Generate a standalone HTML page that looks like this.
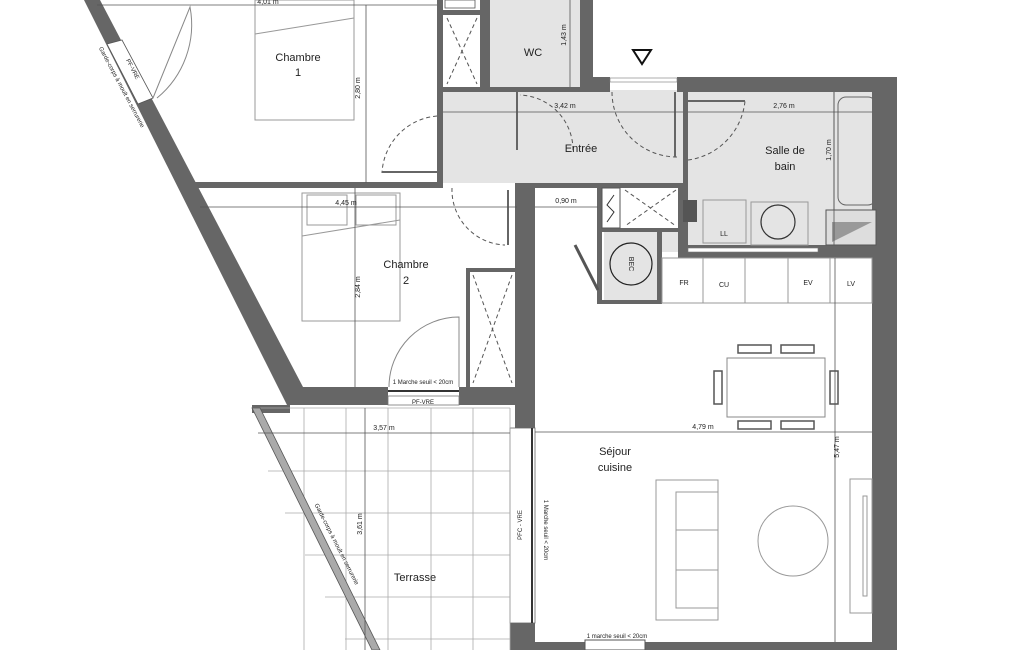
<!DOCTYPE html>
<html><head><meta charset="utf-8"><style>
html,body{margin:0;padding:0;background:#fff}
svg{display:block}
text{font-family:"Liberation Sans",sans-serif;fill:#222}
.w{fill:#666}
.t{fill:#e4e4e4}
.l{stroke:#888;stroke-width:1;fill:none}
.d{stroke:#555;stroke-width:0.8;fill:none}
.ds{stroke:#555;stroke-width:1;fill:none;stroke-dasharray:4 3}
.s{font-size:7px}
.r{font-size:11px}
</style></head><body>
<svg width="1025" height="650" viewBox="0 0 1025 650" xmlns="http://www.w3.org/2000/svg">
<rect class="t" x="443" y="90" width="240" height="93"/>
<rect class="t" x="490" y="0" width="90" height="87"/>
<rect class="t" x="688" y="92" width="184" height="153"/>
<rect class="t" x="604" y="232" width="53" height="68"/>
<rect class="t" x="662" y="232" width="20" height="20"/>

<polygon class="w" points="84,0 100,0 303,387 303,405 287,405"/>
<polygon points="107,44 122,40 153,98 138,104" fill="#fff" stroke="#555" stroke-width="0.8"/>
<rect class="w" x="195" y="182" width="248" height="6"/>
<rect class="w" x="290" y="387" width="98" height="18"/>
<rect class="w" x="459" y="387" width="76" height="18"/>
<rect x="388" y="396" width="71" height="9" fill="#fff" stroke="#777" stroke-width="0.8"/>
<line x1="388" y1="391" x2="459" y2="391" stroke="#333" stroke-width="2"/>
<rect class="w" x="437" y="0" width="6" height="183"/>
<rect class="w" x="443" y="10" width="47" height="5"/>
<rect class="w" x="480" y="0" width="10" height="92"/>
<rect class="w" x="443" y="87" width="150" height="5"/>
<path class="ds" d="M447 18 L477 84 M477 18 L447 84"/>
<rect x="445" y="0" width="30" height="8" fill="#fff" stroke="#555" stroke-width="0.8"/>
<rect class="w" x="580" y="0" width="13" height="92"/>
<rect class="w" x="593" y="77" width="17" height="15"/>
<rect class="w" x="677" y="77" width="220" height="15"/>
<rect x="610" y="78" width="67" height="4" fill="#fff" stroke="#777" stroke-width="0.6"/>
<polygon points="633,50 651,50 642,64" fill="none" stroke="#111" stroke-width="2"/>
<rect class="w" x="683" y="92" width="5" height="160"/>
<rect class="w" x="872" y="92" width="25" height="558"/>
<rect class="w" x="882" y="77" width="15" height="180"/>
<rect class="w" x="683" y="245" width="200" height="13"/>
<rect x="688" y="248" width="130" height="4" fill="#fff" stroke="#777" stroke-width="0.6"/>
<rect x="838" y="97" width="38" height="108" rx="8" fill="none" stroke="#666" stroke-width="1"/>
<line x1="834" y1="92" x2="834" y2="210" stroke="#666"/>
<rect x="826" y="210" width="50" height="35" fill="#ddd" stroke="#555"/>
<polygon points="832,242 872,222 832,222" fill="#999"/>
<rect x="703" y="200" width="43" height="43" fill="none" stroke="#999"/>
<text x="724" y="236" class="s" text-anchor="middle">LL</text>
<rect x="751" y="202" width="57" height="43" fill="none" stroke="#999"/>
<circle cx="778" cy="222" r="17" fill="none" stroke="#333" stroke-width="1.2"/>
<rect x="683" y="200" width="14" height="22" fill="#555"/>
<rect class="w" x="515" y="183" width="20" height="245"/>
<rect class="w" x="510" y="623" width="25" height="27"/>
<rect x="510" y="428" width="25" height="195" fill="#fff" stroke="#666" stroke-width="0.8"/>
<line x1="532" y1="428" x2="532" y2="623" stroke="#333" stroke-width="2"/>
<rect class="w" x="535" y="642" width="362" height="8"/>
<rect x="585" y="640" width="60" height="10" fill="#fff" stroke="#555"/>
<rect class="w" x="535" y="183" width="153" height="5"/>
<rect class="w" x="597" y="183" width="5" height="117"/>
<rect class="w" x="597" y="228" width="86" height="4"/>
<rect class="w" x="657" y="232" width="5" height="70"/>
<rect class="w" x="597" y="300" width="65" height="4"/>
<rect class="w" x="678" y="183" width="5" height="75"/>
<rect x="602" y="188" width="18" height="40" fill="#fff" stroke="#555"/>
<path d="M614 195 L607 205 L614 212 L607 222" stroke="#333" fill="none"/>
<path class="ds" d="M625 190 L676 226 M676 190 L625 226"/>
<circle cx="631" cy="264" r="21" fill="none" stroke="#222" stroke-width="1.2"/>
<text x="631" y="266" class="s" text-anchor="middle" transform="rotate(90 631 264)">BEC</text>
<line x1="575" y1="245" x2="598" y2="290" stroke="#555" stroke-width="3"/>
<rect class="w" x="466" y="268" width="49" height="4"/>
<rect class="w" x="466" y="268" width="4" height="119"/>
<path class="ds" d="M473 275 L512 383 M512 275 L473 383"/>
<rect x="662" y="258" width="210" height="45" fill="none" stroke="#999"/>
<line x1="703" y1="258" x2="703" y2="303" stroke="#999"/>
<line x1="745" y1="258" x2="745" y2="303" stroke="#999"/>
<line x1="788" y1="258" x2="788" y2="303" stroke="#999"/>
<line x1="830" y1="258" x2="830" y2="303" stroke="#999"/>
<text x="684" y="285" class="s" text-anchor="middle">FR</text>
<text x="724" y="287" class="s" text-anchor="middle">CU</text>
<text x="808" y="285" class="s" text-anchor="middle">EV</text>
<text x="851" y="286" class="s" text-anchor="middle">LV</text>
<rect x="727" y="358" width="98" height="59" fill="#fff" stroke="#888"/>
<g fill="none" stroke="#555" stroke-width="1.5">
<rect x="738" y="345" width="33" height="8"/><rect x="781" y="345" width="33" height="8"/>
<rect x="738" y="421" width="33" height="8"/><rect x="781" y="421" width="33" height="8"/>
<rect x="714" y="371" width="8" height="33"/><rect x="830" y="371" width="8" height="33"/>
</g>
<rect x="656" y="480" width="62" height="140" fill="none" stroke="#999"/>
<rect x="676" y="492" width="42" height="116" fill="none" stroke="#999"/>
<line x1="676" y1="530" x2="718" y2="530" stroke="#999"/><line x1="676" y1="570" x2="718" y2="570" stroke="#999"/>
<circle cx="793" cy="541" r="35" fill="none" stroke="#999"/>
<rect x="850" y="479" width="22" height="134" fill="none" stroke="#999"/>
<rect x="863" y="496" width="4" height="100" fill="none" stroke="#999"/>
<rect x="252" y="405" width="38" height="8" class="w"/>
<g stroke="#aaa" stroke-width="0.8">
<line x1="252" y1="408" x2="510" y2="408"/>
<line x1="304" y1="408" x2="304" y2="650"/><line x1="346" y1="408" x2="346" y2="650"/>
<line x1="388" y1="408" x2="388" y2="650"/><line x1="431" y1="408" x2="431" y2="650"/>
<line x1="473" y1="408" x2="473" y2="650"/><line x1="510" y1="408" x2="510" y2="650"/>
<line x1="268" y1="471" x2="510" y2="471"/><line x1="285" y1="513" x2="510" y2="513"/>
<line x1="305" y1="555" x2="510" y2="555"/><line x1="325" y1="597" x2="510" y2="597"/>
<line x1="345" y1="639" x2="510" y2="639"/>
</g>
<polygon points="252,408 260,408 380,650 372,650" fill="#aaa" stroke="#555" stroke-width="0.8"/>
<path class="l" d="M459 387 L459 317 A70 70 0 0 0 389 387" stroke="#333"/>
<path class="l" d="M153 98 L190 7 A95 95 0 0 1 157 98" stroke="#333"/>
<path class="ds" d="M437 116 A60 60 0 0 0 382 173"/>
<line x1="382" y1="172" x2="437" y2="172" stroke="#666" stroke-width="2"/>
<path class="ds" d="M452 188 A55 55 0 0 0 505 245"/>
<line x1="508" y1="190" x2="508" y2="245" stroke="#666" stroke-width="2"/>
<path class="ds" d="M573 150 A55 55 0 0 0 520 95"/>
<line x1="517" y1="92" x2="517" y2="150" stroke="#666" stroke-width="2"/>
<path class="ds" d="M612 92 A65 65 0 0 0 677 157"/>
<line x1="675" y1="92" x2="675" y2="157" stroke="#666" stroke-width="2"/>
<path class="ds" d="M688 160 A66 66 0 0 0 745 101"/>
<line x1="688" y1="101" x2="745" y2="101" stroke="#666" stroke-width="2"/>
<rect x="255" y="0" width="99" height="120" fill="none" stroke="#999"/>
<line x1="255" y1="34" x2="354" y2="18" stroke="#999"/>
<rect x="302" y="193" width="98" height="128" fill="none" stroke="#999"/>
<rect x="307" y="195" width="40" height="30" fill="none" stroke="#999"/><rect x="356" y="195" width="40" height="30" fill="none" stroke="#999"/>
<line x1="302" y1="236" x2="400" y2="220" stroke="#999"/>
<g class="d">
<line x1="97" y1="5" x2="437" y2="5"/>
<line x1="366" y1="5" x2="366" y2="183"/>
<line x1="200" y1="207" x2="517" y2="207"/>
<line x1="355" y1="188" x2="355" y2="387"/>
<line x1="443" y1="112" x2="683" y2="112"/>
<line x1="688" y1="112" x2="872" y2="112"/>
<line x1="570" y1="0" x2="570" y2="87"/>
<line x1="834" y1="92" x2="834" y2="245"/>
<line x1="535" y1="207" x2="598" y2="207"/>
<line x1="535" y1="432" x2="872" y2="432"/>
<line x1="835" y1="258" x2="835" y2="642"/>
<line x1="258" y1="433" x2="510" y2="433"/>
<line x1="365" y1="408" x2="365" y2="650"/>
</g>
<g class="s">
<text x="268" y="4" text-anchor="middle">4,01 m</text>
<text x="360" y="88" transform="rotate(-90 360 88)" text-anchor="middle">2,80 m</text>
<text x="346" y="205" text-anchor="middle">4,45 m</text>
<text x="360" y="287" transform="rotate(-90 360 287)" text-anchor="middle">2,84 m</text>
<text x="565" y="108" text-anchor="middle">3,42 m</text>
<text x="784" y="108" text-anchor="middle">2,76 m</text>
<text x="566" y="35" transform="rotate(-90 566 35)" text-anchor="middle">1,43 m</text>
<text x="831" y="150" transform="rotate(-90 831 150)" text-anchor="middle">1,70 m</text>
<text x="566" y="203" text-anchor="middle">0,90 m</text>
<text x="703" y="429" text-anchor="middle">4,79 m</text>
<text x="839" y="447" transform="rotate(-90 839 447)" text-anchor="middle">5,47 m</text>
<text x="384" y="430" text-anchor="middle">3,57 m</text>
<text x="362" y="524" transform="rotate(-90 362 524)" text-anchor="middle">3,61 m</text>
<text x="423" y="384" text-anchor="middle" font-size="6">1 Marche seuil &lt; 20cm</text>
<text x="423" y="404" text-anchor="middle" font-size="6">PF-VRE</text>
<text x="617" y="638" text-anchor="middle" font-size="6">1 marche seuil &lt; 20cm</text>
<text x="522" y="525" transform="rotate(-90 522 525)" text-anchor="middle" font-size="6">PFC - VRE</text>
<text x="544" y="530" transform="rotate(90 544 530)" text-anchor="middle" font-size="6">1 Marche seuil &lt; 20cm</text>
<text x="120" y="88" transform="rotate(62 120 88)" text-anchor="middle" font-size="6">Garde-corps à moult en serrurerie</text>
<text x="131" y="70" transform="rotate(62 131 70)" text-anchor="middle" font-size="6">PF-VRE</text>
<text x="335" y="545" transform="rotate(63 335 545)" text-anchor="middle" font-size="6">Garde-corps à moult en serrurerie</text>
</g>
<g class="r" text-anchor="middle">
<text x="298" y="61">Chambre</text><text x="298" y="76">1</text>
<text x="406" y="268">Chambre</text><text x="406" y="284">2</text>
<text x="533" y="56">WC</text>
<text x="581" y="152">Entrée</text>
<text x="785" y="154">Salle de</text><text x="785" y="170">bain</text>
<text x="615" y="455">Séjour</text><text x="615" y="471">cuisine</text>
<text x="415" y="581">Terrasse</text>
</g>
</svg>
</body></html>
